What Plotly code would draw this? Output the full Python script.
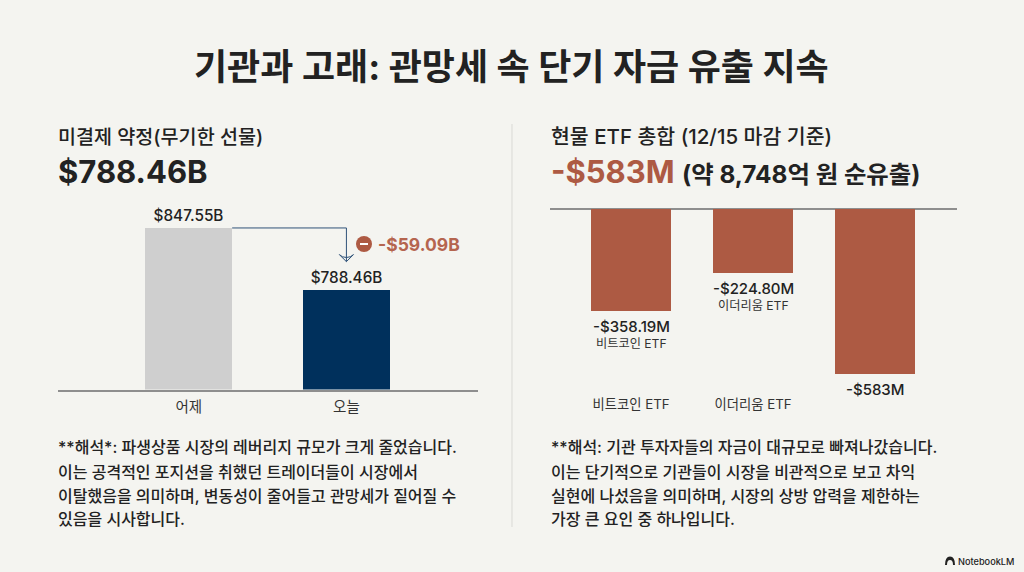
import plotly.graph_objects as go
from plotly.subplots import make_subplots

W, H = 1024, 572

# data
oi_labels = ["어제", "오늘"]
oi_pos = [0, 1]
oi_values = [847.55, 788.46]
oi_text = ["$847.55B", "$788.46B"]
oi_change = "-$59.09B"

etf_cats = ["비트코인 ETF", "이더리움 ETF", "총합"]
etf_ticks = ["비트코인 ETF", "이더리움 ETF", ""]
etf_values = [-358.19, -224.80, -583]
etf_text = ["-$358.19M", "-$224.80M", "-$583M"]
etf_sub = ["비트코인 ETF", "이더리움 ETF", ""]

title = "기관과 고래: 관망세 속 단기 자금 유출 지속"
left_head = "미결제 약정(무기한 선물)"
left_big = "$788.46B"
right_head = "현물 ETF 총합 (12/15 마감 기준)"
right_big = "-$583M"
right_big2 = "(약 8,748억 원 순유출)"

left_note = [
    "**해석*: 파생상품 시장의 레버리지 규모가 크게 줄었습니다.",
    "이는 공격적인 포지션을 취했던 트레이더들이 시장에서",
    "이탈했음을 의미하며, 변동성이 줄어들고 관망세가 짙어질 수",
    "있음을 시사합니다.",
]
right_note = [
    "**해석: 기관 투자자들의 자금이 대규모로 빠져나갔습니다.",
    "이는 단기적으로 기관들이 시장을 비관적으로 보고 차익",
    "실현에 나섰음을 의미하며, 시장의 상방 압력을 제한하는",
    "가장 큰 요인 중 하나입니다.",
]
note_rows = [447, 472, 496, 519]

# colours
BG = "#f4f4f0"
INK = "#222222"
RED = "#ad5a43"
NAVY = "#00305c"
GREY_BAR = "#cfcfcf"
AXIS = "#8e8e8e"
ARROW = "#2f5278"
FONT = "Inter, 'Noto Sans CJK KR', sans-serif"


def px(x):
    return x / W


def py(y):
    return 1 - y / H


def label(x, y, text, size, color=INK, anchor="left", weight=500):
    # annotations carry about 2px of padding, pull left-aligned text back onto its edge
    shift = -2 if anchor == "left" else 0
    return dict(xref="paper", yref="paper", x=px(x), y=py(y), text=text, showarrow=False,
                xanchor=anchor, yanchor="middle", align=anchor, xshift=shift,
                font=dict(size=size, color=color, family=FONT, weight=weight))


fig = make_subplots(rows=1, cols=2)

bar_w = 0.55
fig.add_trace(go.Bar(x=oi_pos, y=oi_values, width=bar_w, text=oi_text, textposition="outside",
                     cliponaxis=False, textfont=dict(size=15.3, color=INK, family=FONT, weight=500),
                     marker=dict(color=[GREY_BAR, NAVY], line_width=0)), row=1, col=1)
fig.add_trace(go.Bar(x=etf_cats, y=etf_values, width=0.66,
                     marker=dict(color=RED, line_width=0)), row=1, col=2)

# drop connector from yesterday's bar over to today's
arrow_end = oi_values[1] + 27
fig.add_trace(go.Scatter(x=[oi_pos[0] + bar_w / 2, oi_pos[1], oi_pos[1]],
                         y=[oi_values[0], oi_values[0], arrow_end], mode="lines",
                         line=dict(color=ARROW, width=1), hoverinfo="skip"), row=1, col=1)
fig.add_trace(go.Scatter(x=[oi_pos[1]], y=[arrow_end], mode="markers", hoverinfo="skip",
                         marker=dict(symbol="arrow-wide-open", angle=180, size=10,
                                     color=ARROW, line=dict(color=ARROW, width=1))),
              row=1, col=1)

# 1.05 px per $B, baseline at y=389.5
fig.update_xaxes(domain=[px(58), px(478)], range=[-0.83, 1.835], showgrid=False, showline=True, zeroline=False,
                 tickmode="array", tickvals=oi_pos, ticktext=oi_labels,
                 linecolor=AXIS, linewidth=1.5, ticks="outside", ticklen=3, tickcolor="rgba(0,0,0,0)",
                 tickfont=dict(size=14.5, color="#333333", family=FONT), row=1, col=1)
fig.update_yaxes(domain=[py(389.5), py(200)], range=[693.7, 693.7 + 189.5 / 1.05], visible=False, row=1, col=1)

# 0.2835 px per $M, zero line at y=209
fig.update_xaxes(domain=[px(550), px(957)], range=[-0.664, 2.672], showgrid=False, showline=False,
                 tickmode="array", tickvals=etf_cats, ticktext=etf_ticks,
                 ticks="outside", ticklen=0, tickfont=dict(size=13.3, color="#333333", family=FONT),
                 row=1, col=2)
fig.update_yaxes(domain=[py(392), py(200)], range=[-183 / 0.2835, 9 / 0.2835], showticklabels=False,
                 showgrid=False, zeroline=True, zerolinecolor=AXIS, zerolinewidth=1.5, row=1, col=2)

notes = [label(58, y, t, 16) for y, t in zip(note_rows, left_note)]
notes += [label(551, y, t, 16) for y, t in zip(note_rows, right_note)]

etf_labels = []
for cat, val, txt, sub in zip(etf_cats, etf_values, etf_text, etf_sub):
    etf_labels.append(dict(xref="x2", yref="y2", x=cat, y=val, text=txt, showarrow=False, yanchor="top", yshift=-4,
                           font=dict(size=15, color=INK, family=FONT, weight=500)))
    if sub:
        etf_labels.append(dict(xref="x2", yref="y2", x=cat, y=val, text=sub, showarrow=False, yanchor="top",
                               yshift=-23, font=dict(size=12.2, color="#333333", family=FONT)))

fig.update_layout(
    width=W, height=H, margin=dict(l=0, r=0, t=0, b=0), showlegend=False,
    paper_bgcolor=BG, plot_bgcolor=BG, bargap=0,
    annotations=[
        label(511, 67, f"<b>{title}</b>", 36, anchor="center"),
        label(58, 137, left_head, 19.6),
        label(58, 171, f"<b>{left_big}</b>", 31),
        label(551, 137, right_head, 20.5),
        label(551, 171, f"<b><span style='color:{RED}'>{right_big}</span> "
                        f"<span style='font-size:24.4px'>{right_big2}</span></b>", 31),
        label(378, 244, f"<b>{oi_change}</b>", 17.5, color="#b5654f"),
        label(1016, 561, "NotebookLM", 9.2, anchor="right"),
    ] + notes + etf_labels,
    shapes=[
        dict(type="line", xref="paper", yref="paper", x0=px(512), x1=px(512), y0=py(124), y1=py(527),
             line=dict(color="#d9d9d5", width=1)),
        dict(type="circle", xref="paper", yref="paper", x0=px(356), x1=px(372), y0=py(236), y1=py(252),
             fillcolor=RED, line_width=0),
        dict(type="line", xref="paper", yref="paper", x0=px(360), x1=px(368), y0=py(244), y1=py(244),
             line=dict(color="white", width=2)),
        # little NotebookLM dome
        dict(type="path", xref="paper", yref="paper",
             path=f"M {px(945)} {py(565)} Q {px(945)} {py(556.5)} {px(950)} {py(556.5)} "
                  f"Q {px(955)} {py(556.5)} {px(955)} {py(565)} L {px(953)} {py(565)} "
                  f"Q {px(953)} {py(560)} {px(950)} {py(560)} Q {px(947)} {py(560)} {px(947)} {py(565)} Z",
             fillcolor="#222222", line_width=0),
    ],
)

fig.write_html("out.html", config={"displayModeBar": False},
               post_script=f"document.body.style.margin='0';document.body.style.background='{BG}';")
